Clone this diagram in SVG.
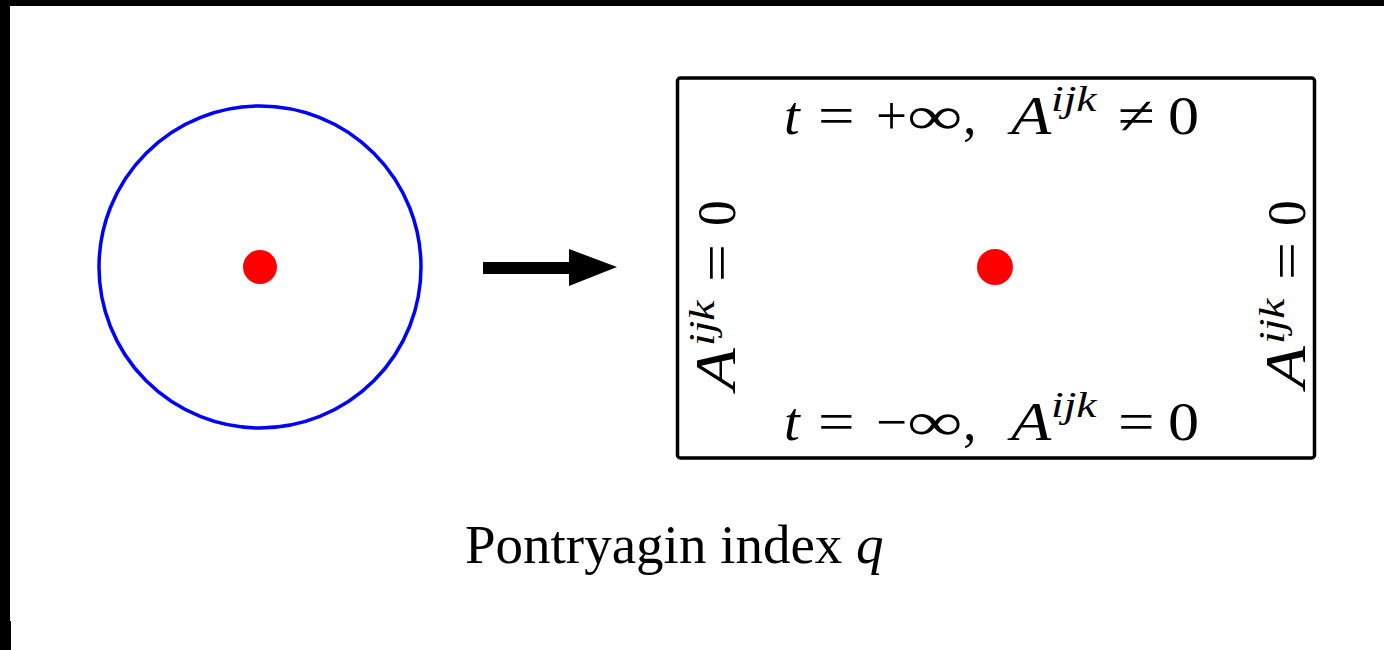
<svg xmlns="http://www.w3.org/2000/svg" width="1384" height="650" viewBox="0 0 1384 650">
<style>
.m{font-family:"Liberation Serif","Times New Roman",serif;font-size:54px;fill:#000}
.i{font-style:italic}
.a{font-style:italic;font-size:54px}
.s{font-size:35px;font-style:italic}
.dot{fill:#ff0000}
</style>
<rect x="0" y="0" width="1384" height="650" fill="#fff"/>
<rect x="0" y="0" width="1384" height="6" fill="#000"/>
<rect x="0" y="0" width="10" height="621" fill="#000"/>
<rect x="0" y="621" width="11" height="29" fill="#000"/>
<g id="disk">
<circle cx="260" cy="267" r="161" fill="none" stroke="#0000ff" stroke-width="3.5"/>
<circle class="dot" cx="260" cy="267" r="17"/>
</g>
<g id="connectors">
<polygon points="483,262 569,262 569,249 617,267 569,286 569,274 483,274" fill="#000"/>
</g>
<g id="box">
<rect x="677.5" y="78" width="637" height="380" rx="3" fill="none" stroke="#000" stroke-width="3.5"/>
<circle class="dot" cx="995" cy="267" r="18"/>
<g id="top-label">
<text class="m i" transform="translate(784,134) scale(1.05,1)">t</text>
<text class="m" transform="translate(818,134) scale(1.2,1)">=</text>
<text class="m" transform="translate(876,134) scale(1.02,1)">+</text>
<text class="m" transform="translate(907,134) scale(1.45,1)">∞</text>
<text class="m" transform="translate(963,134)">,</text>
<text class="m a" transform="translate(1011,134) scale(1.22,1)">A</text>
<text class="m s" transform="translate(1051,111) scale(1.3,1)">ijk</text>
<text class="m" transform="translate(1118,134) scale(1.25,1)">≠</text>
<text class="m" transform="translate(1168,134) scale(1.15,1)">0</text>
</g>
<g id="bottom-label">
<text class="m i" transform="translate(784,440) scale(1.05,1)">t</text>
<text class="m" transform="translate(818,440) scale(1.2,1)">=</text>
<text class="m" transform="translate(876,440) scale(1.02,1)">−</text>
<text class="m" transform="translate(907,440) scale(1.45,1)">∞</text>
<text class="m" transform="translate(963,440)">,</text>
<text class="m a" transform="translate(1011,440) scale(1.22,1)">A</text>
<text class="m s" transform="translate(1051,417) scale(1.3,1)">ijk</text>
<text class="m" transform="translate(1118,440) scale(1.2,1)">=</text>
<text class="m" transform="translate(1168,440) scale(1.15,1)">0</text>
</g>
<g id="left-label" transform="translate(735,388) rotate(-90)">
<text class="m a" transform="translate(-2,0) scale(1.2,1)" style="font-size:57px">A</text>
<text class="m s" transform="translate(42,-21) scale(1.3,1)">ijk</text>
<text class="m" transform="translate(106,0) scale(1.25,1)">=</text>
<text class="m" transform="translate(162,0) scale(0.95,1)">0</text>
</g>
<g id="right-label" transform="translate(1305,386) rotate(-90)">
<text class="m a" transform="translate(-2,0) scale(1.2,1)" style="font-size:57px">A</text>
<text class="m s" transform="translate(42,-21) scale(1.3,1)">ijk</text>
<text class="m" transform="translate(106,0) scale(1.25,1)">=</text>
<text class="m" transform="translate(160,0) scale(0.95,1)">0</text>
</g>
</g>
<g id="caption">
<text class="m" x="465" y="563" style="font-size:55px">Pontryagin index <tspan class="i">q</tspan></text>
</g>
</svg>
